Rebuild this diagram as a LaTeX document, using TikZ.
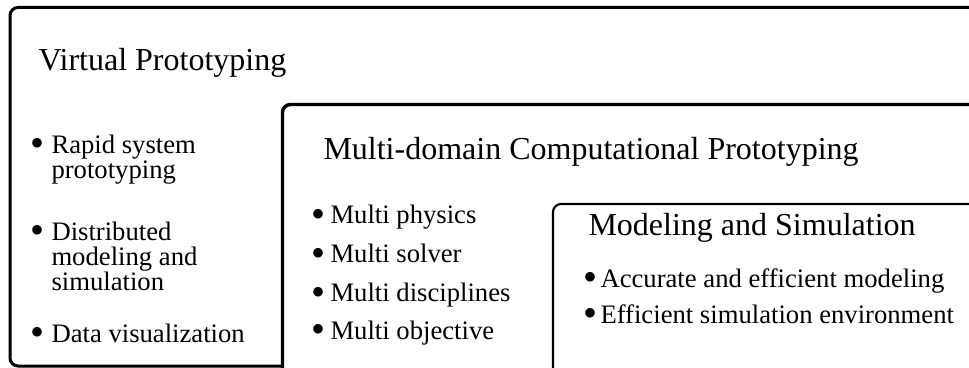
\documentclass[tikz,border=0pt]{standalone}
\usepackage{fontspec}
\usepackage{graphicx}
\setmainfont{Liberation Serif}

\tikzset{every picture/.style={line width=0.75pt}}
\tikzset{
  boxframe/.style={draw=black, fill=white, rounded corners=6pt},
  titletext/.style={anchor=base west, inner sep=0pt, font=\fontsize{24}{28}\selectfont},
  itemtext/.style={anchor=base west, inner sep=0pt, align=left, font=\fontsize{20}{18.75}\selectfont},
}
% larger bullet in a box of fixed width, so the text after it lines up
% (base of a multi-line node is its last line)
\newcommand{\bulbox}[1]{\makebox[#1][l]{\raisebox{-0.14em}{\scalebox{1.5}{\textbullet}}}}

\begin{document}
\begin{tikzpicture}[x=0.75pt,y=0.75pt,yscale=-1,xscale=1]
\path [use as bounding box, clip] (0,0) rectangle (969,367);

%Rounded Rect (outer)
\draw [boxframe, line width=2.25pt] (10,7.5) rectangle (1000,366) ;
%Rounded Rect (middle)
\draw [boxframe, line width=2.6pt] (282.5,104.5) rectangle (1000,420) ;
%Rounded Rect (inner)
\draw [boxframe, line width=1.6pt] (553,204) rectangle (1000,420) ;

% Text Node
\draw (38,71) node (vptitle) [titletext] {Virtual Prototyping};
% Text Node
\draw (30,178) node (vprapid) [itemtext] {\bulbox{15.75pt}Rapid system\\\hspace*{15.75pt}prototyping};
% Text Node
\draw (30,290) node (vpdist) [itemtext] {\bulbox{15.75pt}Distributed\\\hspace*{15.75pt}modeling and\\\hspace*{15.75pt}simulation};
% Text Node
\draw (30,342) node (vpdata) [itemtext] {\bulbox{15.75pt}Data visualization};

% Text Node
\draw (323,159) node (mcptitle) [titletext] {Multi-domain Computational Prototyping};
% Text Node
\draw (311,223.5) node (mcpphys) [itemtext] {\bulbox{14.25pt}Multi physics};
% Text Node
\draw (311,262.5) node (mcpsolv) [itemtext] {\bulbox{14.25pt}Multi solver};
% Text Node
\draw (311,301.5) node (mcpdisc) [itemtext] {\bulbox{14.25pt}Multi disciplines};
% Text Node
\draw (311,339) node (mcpobj) [itemtext] {\bulbox{14.25pt}Multi objective};

% Text Node
\draw (588,235) node (mstitle) [titletext] {Modeling and Simulation};
% Text Node
\draw (583,287) node (msacc) [itemtext] {\bulbox{12.75pt}Accurate and efficient modeling};
% Text Node
\draw (583,323) node (msenv) [itemtext] {\bulbox{12.75pt}Efficient simulation environment};

\end{tikzpicture}
\end{document}
